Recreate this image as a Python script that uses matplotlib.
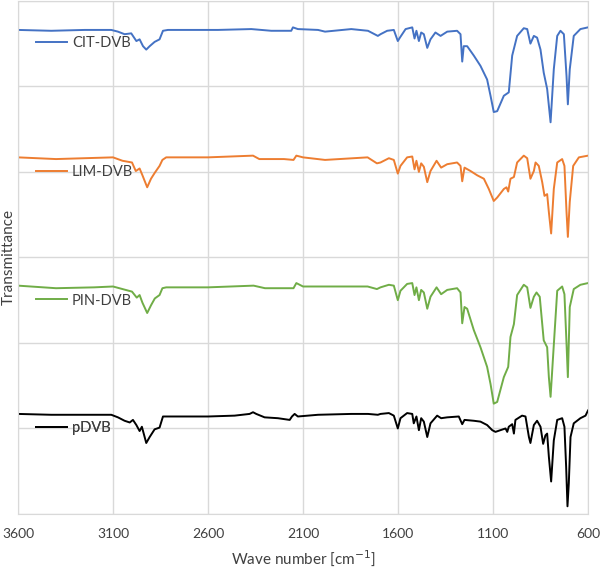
import matplotlib
matplotlib.use("Agg")
import matplotlib.pyplot as plt
import numpy as np

plt.rcParams['font.family'] = ['Lato', 'DejaVu Sans']

# wave numbers [cm-1] and transmittance (arbitrary, offset)
cit_wn = [3600, 3425, 3249, 3109, 3074, 3039, 3004, 2977, 2960, 2942, 2925, 2907, 2881, 2855,
          2837, 2811, 2548, 2372, 2267, 2162, 2153, 2127, 2021, 1984, 1846, 1758, 1706,
          1692, 1657, 1622, 1601, 1590, 1560, 1525, 1513, 1503, 1490, 1478, 1464, 1446, 1429,
          1403, 1376, 1341, 1289, 1271, 1262, 1254, 1236, 1201, 1166, 1131, 1113, 1096, 1078,
          1043, 1017, 999, 973, 938, 920, 903, 885, 868, 850, 833, 815, 797, 780, 762, 745,
          727, 713, 706, 696, 675, 640, 600]
cit_t = [5.66, 5.65, 5.66, 5.66, 5.64, 5.61, 5.62, 5.53, 5.55, 5.47, 5.43, 5.47, 5.52, 5.55,
         5.65, 5.66, 5.66, 5.67, 5.65, 5.65, 5.69, 5.67, 5.66, 5.64, 5.67, 5.65, 5.59,
         5.61, 5.65, 5.66, 5.53, 5.57, 5.67, 5.69, 5.56, 5.65, 5.53, 5.63, 5.61, 5.45, 5.55,
         5.63, 5.59, 5.64, 5.65, 5.61, 5.29, 5.47, 5.47, 5.36, 5.24, 5.08, 4.89, 4.70, 4.71,
         4.89, 4.93, 5.36, 5.59, 5.68, 5.67, 5.50, 5.59, 5.57, 5.43, 5.16, 4.97, 4.58, 5.20,
         5.59, 5.65, 5.61, 5.12, 4.79, 5.20, 5.59, 5.67, 5.69]

lim_wn = [3600, 3400, 3100, 3050, 3000, 2980, 2960, 2945, 2920, 2900, 2880, 2855, 2840, 2820,
          2600, 2363, 2330, 2200, 2150, 2135, 2100, 1984, 1760, 1711,
          1692, 1648, 1622, 1601, 1587, 1552, 1525, 1513, 1503, 1490, 1478, 1464, 1446, 1429,
          1397, 1373, 1341, 1289, 1271, 1262, 1250, 1218, 1183, 1148, 1122, 1096, 1078, 1043,
          1029, 1020, 1008, 990, 973, 938, 920, 903, 885, 876, 859, 841, 829, 815, 806, 794,
          780, 762, 736, 724, 713, 706, 696, 678, 648, 600]
lim_t = [4.17, 4.15, 4.17, 4.13, 4.11, 4.01, 4.04, 3.96, 3.82, 3.92, 3.99, 4.07, 4.14, 4.17,
         4.17, 4.19, 4.15, 4.15, 4.14, 4.19, 4.17, 4.14, 4.17, 4.10,
         4.11, 4.16, 4.14, 3.98, 4.07, 4.17, 4.18, 4.03, 4.13, 4.00, 4.10, 4.06, 3.88, 4.01,
         4.13, 4.05, 4.09, 4.11, 4.07, 3.89, 4.05, 4.01, 3.96, 3.92, 3.80, 3.66, 3.70, 3.80,
         3.82, 3.77, 3.92, 3.94, 4.11, 4.19, 4.16, 3.92, 4.01, 4.11, 4.07, 3.88, 3.72, 3.74,
         3.53, 3.28, 3.80, 4.11, 4.15, 4.07, 3.53, 3.24, 3.65, 4.07, 4.17, 4.19]

pin_wn = [3600, 3400, 3200, 3100, 3050, 3000, 2975, 2960, 2945, 2920, 2900, 2880, 2855, 2840,
          2820, 2600, 2360, 2300, 2200, 2150, 2135, 2100, 1760, 1711,
          1692, 1648, 1622, 1601, 1587, 1552, 1525, 1513, 1503, 1490, 1478, 1464, 1446, 1429,
          1397, 1373, 1341, 1289, 1271, 1262, 1250, 1236, 1201, 1166, 1131, 1113, 1096, 1078,
          1043, 1020, 1008, 990, 973, 938, 920, 903, 885, 871, 854, 833, 815, 806, 797, 783,
          762, 736, 724, 713, 706, 696, 675, 640, 600]
pin_t = [2.67, 2.64, 2.65, 2.66, 2.63, 2.60, 2.53, 2.56, 2.47, 2.35, 2.44, 2.52, 2.56, 2.64,
         2.65, 2.65, 2.67, 2.64, 2.64, 2.64, 2.70, 2.66, 2.66, 2.63,
         2.65, 2.68, 2.67, 2.50, 2.61, 2.69, 2.70, 2.56, 2.65, 2.50, 2.62, 2.59, 2.40, 2.54,
         2.65, 2.57, 2.62, 2.64, 2.59, 2.23, 2.42, 2.40, 2.15, 1.95, 1.72, 1.52, 1.29, 1.31,
         1.60, 1.72, 2.07, 2.22, 2.56, 2.68, 2.65, 2.41, 2.54, 2.59, 2.54, 2.03, 1.95, 1.60,
         1.37, 1.87, 2.61, 2.66, 2.57, 1.99, 1.60, 2.42, 2.63, 2.68, 2.70]

pdvb_wn = [3600, 3425, 3249, 3109, 3074, 3039, 3012, 2995, 2977, 2960, 2948, 2925, 2907, 2881,
           2855, 2837, 2811, 2600, 2460, 2381, 2363, 2346, 2302, 2232, 2170, 2158, 2144, 2127,
           2021, 1846, 1758, 1706,
           1692, 1648, 1622, 1601, 1587, 1552, 1525, 1517, 1503, 1490, 1478, 1464, 1446, 1429,
           1394, 1373, 1341, 1280, 1262, 1250, 1201, 1166, 1131, 1104, 1087, 1061, 1034, 1025,
           1017, 999, 990, 982, 947, 929, 911, 903, 885, 868, 850, 836, 824, 815, 806, 794,
           780, 762, 736, 724, 715, 708, 701, 692, 675, 640, 613, 600]
pdvb_t = [1.17, 1.16, 1.16, 1.16, 1.13, 1.09, 1.07, 1.10, 1.04, 0.97, 1.02, 0.83, 0.90, 0.99,
          1.01, 1.14, 1.14, 1.14, 1.15, 1.17, 1.19, 1.17, 1.13, 1.12, 1.10, 1.14, 1.17, 1.14,
          1.16, 1.17, 1.17, 1.16,
          1.17, 1.18, 1.15, 1.00, 1.12, 1.18, 1.17, 1.06, 1.14, 0.98, 1.12, 1.08, 0.90, 1.06,
          1.15, 1.12, 1.13, 1.14, 1.05, 1.10, 1.09, 1.08, 1.04, 0.98, 0.96, 0.98, 1.00, 0.96,
          1.02, 1.05, 0.94, 1.10, 1.15, 1.14, 0.90, 0.83, 1.04, 1.09, 1.02, 0.82, 0.92, 0.94,
          0.67, 0.38, 0.86, 1.10, 1.12, 1.02, 0.55, 0.09, 0.36, 0.90, 1.06, 1.12, 1.15, 1.21]

series = [
    ("CIT-DVB", cit_wn, cit_t, "#4472C4", 0.918),
    ("LIM-DVB", lim_wn, lim_t, "#ED7D31", 0.667),
    ("PIN-DVB", pin_wn, pin_t, "#70AD47", 0.416),
    ("pDVB", pdvb_wn, pdvb_t, "black", 0.167),
]

fig = plt.figure(figsize=(6.0, 5.67), dpi=100)
ax = fig.add_axes([0.03, 0.0935, 0.95, 0.905])

for name, wn, t, color, ly in series:
    line, = ax.plot(wn, t, color=color, lw=1.4, label=name)
    leg = ax.legend(handles=[line], loc="center left", bbox_to_anchor=(0.032, ly),
                    frameon=False, fontsize=10.5, handlelength=2.1, handletextpad=0.35,
                    borderaxespad=0, borderpad=0)
    for txt in leg.get_texts():
        txt.set_color("#404040")
    ax.add_artist(leg)

ax.set_xlim(3600, 600)
ax.set_ylim(0, 6)
ax.set_xticks(np.arange(3600, 599, -500))
ax.set_yticks(np.arange(0, 6.01, 1))
ax.set_yticklabels([])
ax.tick_params(length=0, labelsize=10, pad=10, colors="#404040")
ax.grid(True, color="#d9d9d9", lw=1)
ax.set_axisbelow(True)
for s in ax.spines.values():
    s.set_color("#d9d9d9")

ax.set_xlabel("Wave number [cm$^{-1}$]", fontsize=11, labelpad=6, color="#404040")
fig.text(0.014, 0.547, "Transmittance", rotation=90, ha="center", va="center",
         fontsize=11, color="#404040")

fig.savefig("out.png", dpi=100)
